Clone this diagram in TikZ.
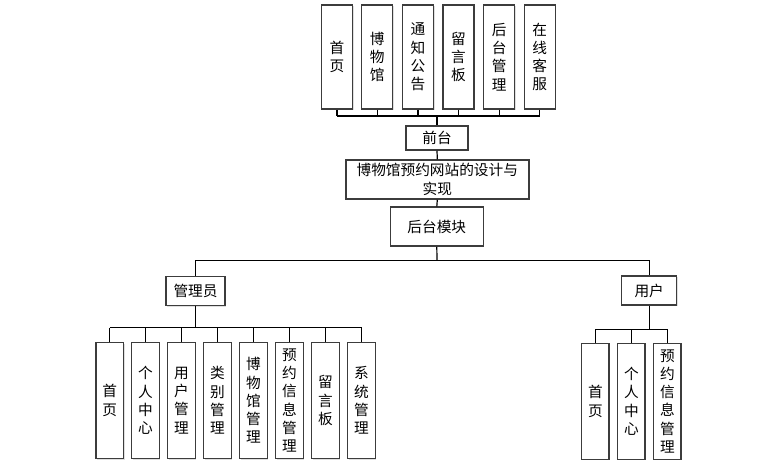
\documentclass[tikz,border=0pt]{standalone}
\usepackage{fontspec}
\newfontfamily\cjk{Noto Sans CJK SC}
\usepackage{tikz}
\usetikzlibrary{shadows}
\definecolor{boxgray}{HTML}{3C3C3C}

\begin{document}
\begin{tikzpicture}[x=0.75pt,y=-0.75pt,font=\cjk\fontsize{11}{13.7}\selectfont,
  box/.style={draw=boxgray,line width=1.1pt,fill=white,align=center,inner sep=0pt,
    drop shadow={opacity=0.25,shadow xshift=0.8pt,shadow yshift=-0.8pt}},
  topbox/.style={box,minimum width=23.25pt,minimum height=78pt},
  leafbox/.style={box,minimum width=20.7pt,minimum height=87pt},
  link/.style={line width=0.9pt,black}]
  \useasboundingbox (0,0) rectangle (762,469);

  % front-end modules
  \node[topbox] (t1) at (337,57) {首\\页};
  \node[topbox] (t2) at (377.2,57) {博\\物\\馆};
  \node[topbox] (t3) at (418,57) {通\\知\\公\\告};
  \node[topbox] (t4) at (458.5,57) {留\\言\\板};
  \node[topbox] (t5) at (499.2,57) {后\\台\\管\\理};
  \node[topbox] (t6) at (539.8,57) {在\\线\\客\\服};

  \node[box,minimum width=46.5pt,minimum height=18pt] (qiantai) at (437,138) {前台};
  \node[box,minimum width=137.25pt,minimum height=29.25pt] (title) at (437.3,179.5)
    {博物馆预约网站的设计与\\实现};
  \node[box,minimum width=69.75pt,minimum height=29.25pt] (houtai) at (436.8,226.7) {后台模块};

  \node[box,minimum width=44.25pt,minimum height=21.75pt] (admin) at (195.5,291.2) {管理员};
  \node[box,minimum width=41.25pt,minimum height=21.75pt] (user) at (649.2,290.5) {用户};

  % admin modules
  \node[leafbox] (a1) at (109.7,400.5) {首\\页};
  \node[leafbox] (a2) at (145.5,400.5) {个\\人\\中\\心};
  \node[leafbox] (a3) at (181.5,400.5) {用\\户\\管\\理};
  \node[leafbox] (a4) at (217.5,400.5) {类\\别\\管\\理};
  \node[leafbox] (a5) at (253.5,400.5) {博\\物\\馆\\管\\理};
  \node[leafbox] (a6) at (289.5,400.5) {预\\约\\信\\息\\管\\理};
  \node[leafbox] (a7) at (325.5,400.5) {留\\言\\板};
  \node[leafbox] (a8) at (361.5,400.5) {系\\统\\管\\理};

  % user modules
  \node[leafbox] (u1) at (595.4,401.3) {首\\页};
  \node[leafbox] (u2) at (631.4,401.3) {个\\人\\中\\心};
  \node[leafbox] (u3) at (667.4,401.3) {预\\约\\信\\息\\管\\理};

  \coordinate (topbus) at (437,116);
  \coordinate (split) at (437,260.5);
  \coordinate (abus) at (195.5,327.7);
  \coordinate (ubus) at (649.2,329.3);

  \foreach \n in {t1,t2,t3,t4,t5,t6}
    \draw[link] (\n.south) -- (\n.south |- topbus);
  \draw[link] (t1.south |- topbus) -- (t6.south |- topbus);
  \draw[link] (topbus) -- (qiantai.north);
  \draw[link] (qiantai.south) -- (title.north);
  \draw[link] (title.south) -- (houtai.north);
  \draw[link] (houtai.south) -- (split);
  \draw[link] (admin.north) |- (split) -| (user.north);

  \draw[link] (admin.south) -- (abus);
  \foreach \n in {a1,a2,a3,a4,a5,a6,a7,a8}
    \draw[link] (\n.north) -- (\n.north |- abus);
  \draw[link] (a1.north |- abus) -- (a8.north |- abus);

  \draw[link] (user.south) -- (ubus);
  \foreach \n in {u1,u2,u3}
    \draw[link] (\n.north) -- (\n.north |- ubus);
  \draw[link] (u1.north |- ubus) -- (u3.north |- ubus);
\end{tikzpicture}
\end{document}
